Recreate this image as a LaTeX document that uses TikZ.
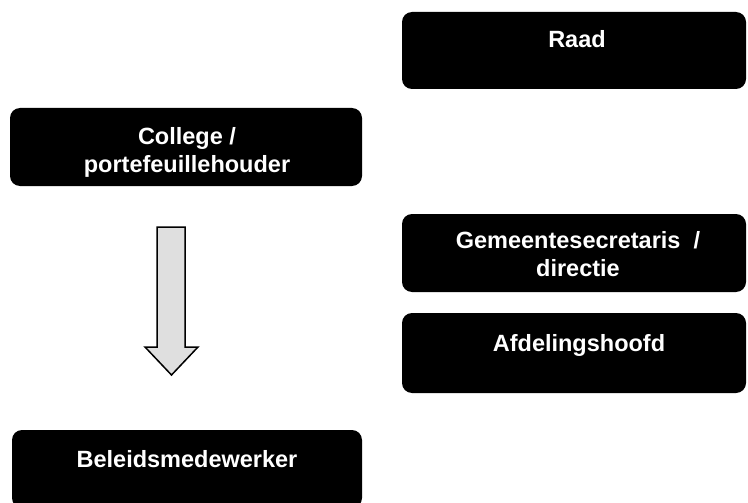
\documentclass[tikz,border=0pt]{standalone}
\usepackage{fontspec}
\setmainfont{Liberation Sans}
\usetikzlibrary{positioning}

\begin{document}
\begin{tikzpicture}[x=1pt, y=-1pt,
  orgbox/.style={fill=black, rounded corners=10pt, inner sep=0pt,
    minimum width=344pt, minimum height=78pt},
  orgtext/.style={text=white, font=\fontsize{23.5}{27.5}\selectfont\bfseries,
    align=center, anchor=base, inner sep=0pt},
  blockarrow/.style={fill=gray!25, draw=black, line width=1.5pt, line join=miter}]
  \useasboundingbox (0,0) rectangle (748,503);
  \clip (0,0) rectangle (748,503);

  % right column
  \node[orgbox, minimum height=77pt] (raad) at (574,50.5) {};
  \node[orgbox] (gemeente) at (574,253) {};
  \node[orgbox, minimum height=80pt] (afdeling) at (574,353) {};
  % left column
  \node[orgbox, minimum width=352pt] (college) at (186,147) {};
  \node[orgbox, minimum width=350pt] (beleids) at (187,469) {};

  % anchor=base sits on the last line
  \node[orgtext] (raadtxt) at (577,48) {Raad};
  \node[orgtext] (gemeentetxt) at (578,276) {Gemeentesecretaris\ \ /\\directie};
  \node[orgtext] (afdelingtxt) at (579,351) {Afdelingshoofd};
  \node[orgtext] (collegetxt) at (187,172) {College /\\portefeuillehouder};
  \node[orgtext] (beleidstxt) at (187,467) {Beleidsmedewerker};

  % block arrow
  \draw[blockarrow] (157,227) -- (185,227) -- (185,347) -- (198,347)
    -- (171.5,375) -- (145,347) -- (157,347) -- cycle;
\end{tikzpicture}
\end{document}
